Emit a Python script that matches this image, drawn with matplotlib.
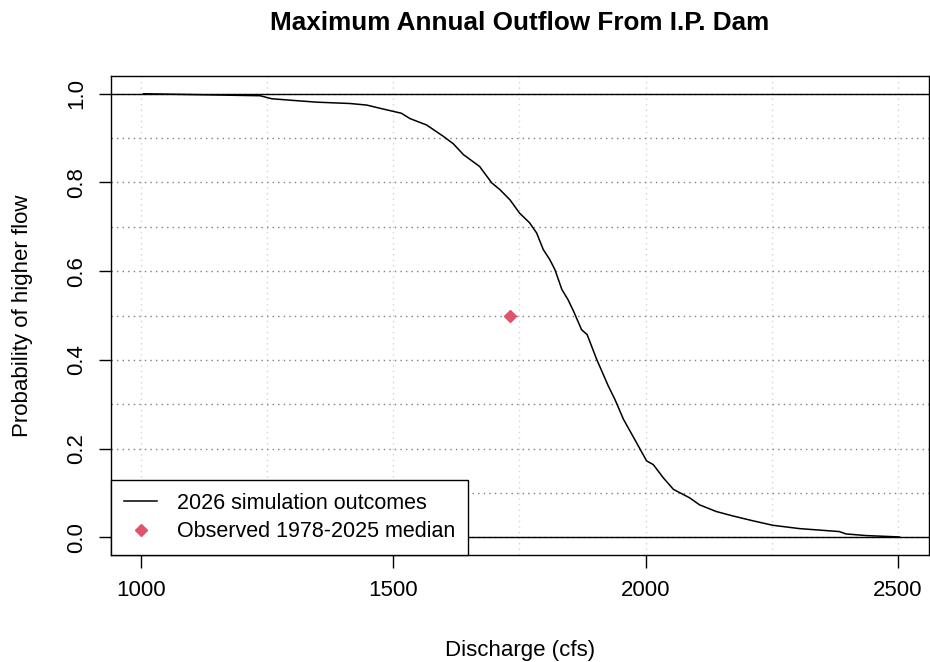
import numpy as np
import matplotlib
matplotlib.use('Agg')
from matplotlib import pyplot as plt

plt.rcParams['font.family'] = ['Liberation Sans', 'DejaVu Sans']

# exceedance curve of simulated annual peak outflow
discharge = [1005, 1236, 1259, 1301, 1348, 1414, 1447, 1480, 1516, 1533, 1566,
             1599, 1619, 1639, 1671, 1695, 1711, 1731, 1750, 1770, 1784, 1797,
             1810, 1820, 1834, 1846, 1857, 1873, 1884, 1903, 1926, 1939, 1956,
             1982, 2002, 2015, 2035, 2055, 2087, 2107, 2140, 2173, 2213, 2252,
             2305, 2384, 2397, 2437, 2503]
prob_higher = [1.0, 0.9955, 0.9887, 0.985, 0.981, 0.978, 0.9745, 0.9655, 0.956,
               0.944, 0.9295, 0.904, 0.887, 0.8626, 0.836, 0.799, 0.784, 0.761,
               0.731, 0.709, 0.686, 0.649, 0.626, 0.604, 0.5586, 0.536, 0.51,
               0.468, 0.457, 0.401, 0.341, 0.311, 0.266, 0.213, 0.172, 0.164,
               0.134, 0.108, 0.089, 0.073, 0.058, 0.048, 0.037, 0.027, 0.0195,
               0.0128, 0.0075, 0.0038, 0.0007]

obs_median = 1731
obs_prob = 0.5

xticks = [1000, 1500, 2000, 2500]
xgrid = [1000, 1250, 1500, 1750, 2000, 2250, 2500]
yticks = [0.0, 0.2, 0.4, 0.6, 0.8, 1.0]
ygrid = np.arange(0, 1.01, 0.1)

fig = plt.figure(figsize=(9.3, 6.62), dpi=100)
ax = fig.add_axes([111/930, 107/662, 818/930, 479/662])

for g in xgrid:
    ax.axvline(g, color='#d3d3d3', lw=1, ls=(0, (1, 3)), zorder=1)
for g in ygrid:
    ax.axhline(g, color='#7f7f7f', lw=1, ls=(0, (1, 3)), zorder=1)
ax.axhline(0, color='black', lw=1, zorder=2)
ax.axhline(1, color='black', lw=1, zorder=2)

ax.plot(discharge, prob_higher, color='black', lw=1.1, zorder=3,
        label='2026 simulation outcomes')
ax.plot([obs_median], [obs_prob], ls='none', marker='D', ms=6.5,
        color='#DF536B', zorder=4, label='Observed 1978-2025 median')

ax.set_xlim(940.5, 2561.5)
ax.set_ylim(-0.04, 1.04)
ax.set_xticks(xticks)
ax.set_xticklabels([str(t) for t in xticks])
ax.set_yticks(yticks)
ax.set_yticklabels(['%.1f' % t for t in yticks], rotation=90, va='center')
ax.tick_params(axis='both', labelsize=16, length=9, width=1)
ax.tick_params(axis='x', pad=9)
ax.tick_params(axis='y', pad=8)
for s in ax.spines.values():
    s.set_linewidth(1)

ax.set_xlabel('Discharge (cfs)', fontsize=16, labelpad=28)
ax.set_ylabel('Probability of higher flow', fontsize=16, labelpad=24)
fig.suptitle('Maximum Annual Outflow From I.P. Dam', fontsize=18.8,
             fontweight='bold', x=520/930, y=1 - 11/662, va='top')

leg = ax.legend(loc='lower left', bbox_to_anchor=(0, 0), fontsize=15.5,
                frameon=True, fancybox=False, borderaxespad=0,
                handlelength=1.55, handletextpad=0.93, borderpad=0.6,
                labelspacing=0.35)
leg.get_frame().set_edgecolor('black')
leg.get_frame().set_linewidth(1)
leg.get_frame().set_alpha(1)

fig.savefig('out.png', dpi=100)
